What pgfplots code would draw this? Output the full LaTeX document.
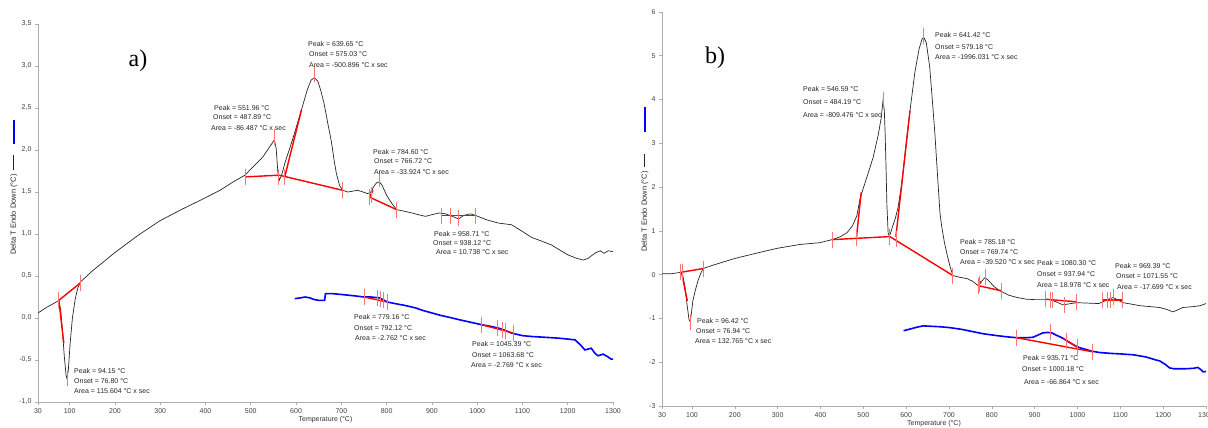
\documentclass[border=0pt]{standalone}
\usepackage{pgfplots}
\pgfplotsset{compat=1.18}
\usepackage{fontspec}
\setmainfont{Liberation Sans}
\newfontfamily\seriffont{Liberation Serif}
\newcommand\ann[3]{\node[anchor=west,inner sep=0pt,font=\fontsize{7}{8}\selectfont,text=black!85] at ({#1pt},{428pt-#2pt}) {#3};}
\pgfplotsset{
  dta/.style={
    scale only axis, anchor=south west,
    axis lines=left, axis line style={-, gray!65, line width=0.9pt},
    tick align=outside, major tick length=3pt, tick style={gray!65, line width=0.6pt},
    xmin=30, xmax=1300, xtick={30,100,200,300,400,500,600,700,800,900,1000,1100,1200,1300},
    tick label style={font=\fontsize{7}{8}\selectfont, text=black!75},
    /pgf/number format/assume math mode=true,
    xticklabel style={/pgf/number format/1000 sep={}},
    xlabel={Temperature (°C)},
    xlabel style={font=\fontsize{7}{8}\selectfont, text=black!80, yshift=4pt},
  },
  blk/.style={black!85, line width=0.7pt},
  blu/.style={blue, line width=1.6pt},
  rl/.style={red, line width=1.4pt},
  rt/.style={red!55, only marks, mark=|, mark size=8pt, mark options={line width=0.8pt}},
}
\begin{document}
\begin{tikzpicture}
\useasboundingbox (0,0) rectangle (1208pt,428pt);
% ---------------- panel a ----------------
\begin{axis}[dta, at={(38pt,26pt)}, width=575pt, height=378pt,
  ymin=-1, ymax=3.5, ytick={-1,-0.5,0,0.5,1,1.5,2,2.5,3,3.5},
  yticklabel style={/pgf/number format/.cd, use comma, fixed, fixed zerofill, precision=1}]
\addplot[blk] coordinates {
(30,0.06)(50,0.13)(70,0.19)(76,0.21)(80,0.10)(84,-0.15)(88,-0.45)(92,-0.68)(94,-0.72)(97,-0.62)(101,-0.30)(106,0.00)(112,0.22)(118,0.36)(124,0.43)
(150,0.56)(200,0.78)(250,0.98)(300,1.16)(350,1.30)(388,1.40)(432,1.52)(461,1.62)(487,1.70)(505,1.80)(527,1.92)(542,2.04)(552,2.12)(556,2.02)(560,1.72)(563,1.64)(568,1.70)(575,1.84)
(592,2.12)(612,2.48)(625,2.72)(633,2.83)(640,2.86)(648,2.82)(655,2.70)(662,2.55)(670,2.32)(678,2.10)(684,1.88)(689,1.72)(696,1.58)(703,1.52)(714,1.50)(725,1.51)(736,1.52)(748,1.50)(758,1.48)
(765,1.50)(772,1.57)(778,1.61)(784,1.62)(790,1.58)(800,1.46)(812,1.36)(822,1.29)(840,1.27)(856,1.25)(870,1.23)(886,1.21)(900,1.23)(916,1.25)(930,1.24)(945,1.21)(959,1.18)(970,1.22)(985,1.24)(997,1.22)
(1020,1.17)(1047,1.13)(1076,1.11)(1100,1.03)(1120,0.96)(1140,0.92)(1164,0.87)(1185,0.80)(1201,0.75)(1220,0.71)(1234,0.69)(1245,0.71)(1252,0.74)(1263,0.78)(1272,0.80)(1280,0.77)(1290,0.80)(1300,0.79)};
\addplot[blu] coordinates {
(597,0.23)(610,0.24)(620,0.25)(630,0.24)(640,0.22)(650,0.21)(663,0.21)(665,0.29)(680,0.29)(700,0.28)(718,0.27)(735,0.26)(750,0.25)(765,0.25)(784,0.24)(802,0.19)(820,0.17)(840,0.15)(864,0.12)(880,0.09)
(900,0.06)(920,0.03)(937,0.01)(960,-0.02)(985,-0.05)(1010,-0.08)(1030,-0.10)(1047,-0.12)(1063,-0.15)(1076,-0.18)(1100,-0.21)(1120,-0.22)(1150,-0.23)(1180,-0.24)(1216,-0.26)(1228,-0.32)(1238,-0.38)(1245,-0.37)(1252,-0.36)(1260,-0.42)(1267,-0.45)(1278,-0.43)(1288,-0.46)(1296,-0.49)(1300,-0.49)};
\addplot[rl] coordinates {(76,0.21)(124,0.42)};
\addplot[rl] coordinates {(76,0.21)(87,-0.30)};
\addplot[rl] coordinates {(487,1.68)(563,1.70)};
\addplot[rl] coordinates {(563,1.70)(703,1.52)};
\addplot[rl] coordinates {(575,1.68)(612,2.48)};
\addplot[rl] coordinates {(762,1.44)(822,1.29)};
\addplot[rl] coordinates {(762,1.44)(770,1.52)};
\addplot[rl] coordinates {(922,1.22)(995,1.22)};
\addplot[rl] coordinates {(750,0.25)(802,0.19)};
\addplot[rl] coordinates {(1010,-0.08)(1080,-0.18)};
\addplot[rt] coordinates {(76,0.21)(94,-0.72)(124,0.42)(487,1.68)(552,2.16)(561,1.68)(575,1.68)(640,2.9)(703,1.52)(762,1.44)(766,1.46)(784,1.65)(822,1.29)(922,1.22)(940,1.21)(958,1.19)(995,1.22)};
\addplot[rt] coordinates {(750,0.25)(779,0.24)(786,0.23)(793,0.21)(802,0.19)(1010,-0.08)(1045,-0.12)(1055,-0.14)(1063,-0.15)(1080,-0.18)};
\end{axis}
% ---------------- panel b ----------------
\begin{axis}[dta, at={(662pt,22pt)}, width=544pt, height=394pt,
  ymin=-3, ymax=6, ytick={-3,-2,-1,0,1,2,3,4,5,6}]
\addplot[blk] coordinates {
(30,0.02)(50,0.02)(72,0.05)(78,0.0)(84,-0.30)(88,-0.65)(93,-1.02)(96,-1.08)(99,-0.85)(102,-0.60)(108,-0.35)(114,-0.14)(120,0.02)(126,0.14)(150,0.22)(200,0.37)(250,0.49)(298,0.60)(352,0.69)(398,0.73)
(427,0.80)(445,0.86)(462,0.96)(475,1.12)(485,1.35)(492,1.72)(500,1.98)(510,2.28)(523,2.68)(535,3.20)(542,3.60)(546,3.98)(549,3.75)(551,3.2)(553,2.45)(555,1.6)(558,0.94)(561,0.88)(565,1.0)(569,1.12)(575,1.30)(581,1.53)
(590,2.1)(600,3.0)(609,3.75)(620,4.6)(630,5.15)(637,5.38)(641,5.42)(647,5.30)(655,4.74)(661,4.0)(667,3.23)(673,2.3)(679,1.40)(683,1.10)(689,0.75)(695,0.48)(702,0.20)(709,-0.02)(725,-0.06)(742,-0.09)(755,-0.15)(768,-0.25)
(776,-0.15)(784,-0.07)(792,-0.13)(805,-0.27)(819,-0.37)(840,-0.47)(858,-0.52)(880,-0.56)(900,-0.57)(935,-0.57)(950,-0.62)(966,-0.69)(985,-0.66)(998,-0.64)(1025,-0.65)(1050,-0.66)(1070,-0.57)(1083,-0.52)(1095,-0.58)(1106,-0.64)
(1130,-0.68)(1146,-0.71)(1170,-0.73)(1192,-0.75)(1210,-0.80)(1223,-0.85)(1235,-0.80)(1246,-0.75)(1270,-0.73)(1286,-0.71)(1300,-0.66)};
\addplot[blu] coordinates {
(594,-1.28)(610,-1.24)(625,-1.20)(640,-1.17)(660,-1.18)(680,-1.19)(702,-1.21)(730,-1.25)(755,-1.30)(780,-1.35)(810,-1.39)(835,-1.42)(858,-1.44)(880,-1.44)(896,-1.43)(910,-1.37)(919,-1.33)(930,-1.32)(940,-1.33)(950,-1.38)
(959,-1.42)(967,-1.46)(975,-1.51)(985,-1.57)(994,-1.62)(1005,-1.67)(1013,-1.69)(1034,-1.75)(1053,-1.78)(1080,-1.80)(1100,-1.81)(1130,-1.83)(1160,-1.88)(1180,-1.94)(1192,-1.97)(1205,-2.05)(1215,-2.13)(1225,-2.15)(1250,-2.15)(1270,-2.14)(1281,-2.12)(1288,-2.17)(1293,-2.22)(1300,-2.21)};
\addplot[rl] coordinates {(72,0.05)(126,0.14)};
\addplot[rl] coordinates {(76,0.04)(89,-0.6)};
\addplot[rl] coordinates {(427,0.80)(562,0.87)};
\addplot[rl] coordinates {(484,0.85)(495,1.88)};
\addplot[rl] coordinates {(562,0.87)(709,-0.02)};
\addplot[rl] coordinates {(576,0.87)(609,3.75)};
\addplot[rl] coordinates {(768,-0.25)(823,-0.37)};
\addplot[rl] coordinates {(768,-0.25)(776,-0.15)};
\addplot[rl] coordinates {(924,-0.56)(998,-0.62)};
\addplot[rl] coordinates {(1057,-0.58)(1104,-0.58)};
\addplot[rl] coordinates {(858,-1.44)(1034,-1.76)};
\addplot[rl] coordinates {(967,-1.46)(1000,-1.66)};
\addplot[rt] coordinates {(72,0.05)(78,0.05)(126,0.12)(96,-1.08)(427,0.80)(484,0.84)(546,4.0)(562,0.87)(578,0.82)(641,5.45)(709,-0.02)(768,-0.25)(772,-0.22)(785,-0.05)(823,-0.37)(924,-0.56)(937,-0.57)(941,-0.57)(969,-0.69)(998,-0.62)(1057,-0.58)(1070,-0.58)(1076,-0.57)(1083,-0.52)(1104,-0.58)};
\addplot[rt] coordinates {(858,-1.44)(937,-1.32)(975,-1.51)(1000,-1.65)(1034,-1.76)};
\end{axis}
% ---------------- y labels with legend keys ----------------
\node[rotate=90, anchor=west, inner sep=0pt, font=\fontsize{7.5}{8}\selectfont, text=black!85] at (14pt,173pt)
  {Delta T Endo Down (°C)\hspace{4pt}\textcolor{black!85}{\rule[2pt]{15pt}{0.6pt}}\hspace{11pt}\textcolor{blue}{\rule[1pt]{24pt}{2pt}}};
\node[rotate=90, anchor=west, inner sep=0pt, font=\fontsize{7.5}{8}\selectfont, text=black!85] at (645pt,176pt)
  {Delta T Endo Down (°C)\hspace{4pt}\textcolor{black!85}{\rule[2pt]{13pt}{0.6pt}}\hspace{22pt}\textcolor{blue}{\rule[1pt]{25pt}{2pt}}};
% ---------------- panel letters ----------------
\node[font=\fontsize{24}{24}\seriffont] at (138pt,367pt) {a)};
\node[font=\fontsize{24}{24}\seriffont] at (715pt,370pt) {b)};
% ---------------- annotations a ----------------
\ann{308}{44}{Peak = 639.65 °C}\ann{309}{54}{Onset = 575.03 °C}\ann{309}{65}{Area = -500.896 °C x sec}
\ann{214}{108}{Peak = 551.96 °C}\ann{213}{117}{Onset = 487.89 °C}\ann{211}{128}{Area = -86.487 °C x sec}
\ann{373}{152}{Peak = 784.60 °C}\ann{374}{161}{Onset = 766.72 °C}\ann{374}{172}{Area = -33.924 °C x sec}
\ann{434}{234}{Peak = 958.71 °C}\ann{433}{243}{Onset = 938.12 °C}\ann{436}{252}{Area = 10.738 °C x sec}
\ann{74}{371}{Peak = 94.15 °C}\ann{74}{381}{Onset = 76.80 °C}\ann{74}{391}{Area = 115.604 °C x sec}
\ann{354}{317}{Peak = 779.16 °C}\ann{354}{328}{Onset = 792.12 °C}\ann{355}{338}{Area = -2.762 °C x sec}
\ann{472}{344}{Peak = 1045.39 °C}\ann{472}{355}{Onset = 1063.68 °C}\ann{471}{365}{Area = -2.769 °C x sec}
% ---------------- annotations b ----------------
\ann{803}{89}{Peak = 546.59 °C}\ann{803}{102}{Onset = 484.19 °C}\ann{803}{115}{Area = -809.476 °C x sec}
\ann{935}{35}{Peak = 641.42 °C}\ann{935}{47}{Onset = 579.18 °C}\ann{935}{57}{Area = -1996.031 °C x sec}
\ann{697}{321}{Peak = 96.42 °C}\ann{696}{331}{Onset = 76.94 °C}\ann{695}{341}{Area = 132.765 °C x sec}
\ann{960}{242}{Peak = 785.18 °C}\ann{960}{252}{Onset = 769.74 °C}\ann{960}{262}{Area = -39.520 °C x sec}
\ann{1037}{263}{Peak = 1080.30 °C}\ann{1037}{274}{Onset = 937.94 °C}\ann{1037}{285}{Area = 18.978 °C x sec}
\ann{1115}{266}{Peak = 969.39 °C}\ann{1116}{276}{Onset = 1071.55 °C}\ann{1117}{287}{Area = -17.699 °C x sec}
\ann{1023}{358}{Peak = 935.71 °C}\ann{1022}{369}{Onset = 1000.18 °C}\ann{1024}{382}{Area = -66.864 °C x sec}
\end{tikzpicture}
\end{document}
